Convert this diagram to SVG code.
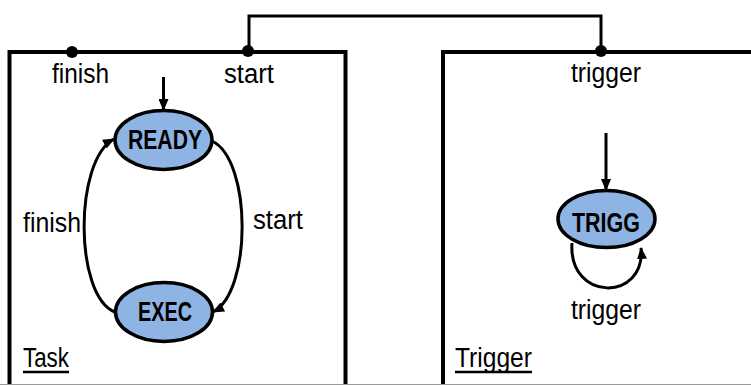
<svg xmlns="http://www.w3.org/2000/svg" width="751" height="385" viewBox="0 0 751 385">
<defs>
<marker id="arr" markerUnits="userSpaceOnUse" markerWidth="12" markerHeight="10" refX="11" refY="5" orient="auto">
<path d="M0,0 L12,5 L0,10 Z" fill="#000"/>
</marker>
<style>
.box{fill:#fff;stroke:#000;stroke-width:4}
.st{fill:#8EB4E3;stroke:#000;stroke-width:3.5}
.lbl{font-family:"Liberation Sans",Arial,sans-serif;font-size:27px;fill:#000}
.bold{font-family:"Liberation Sans",Arial,sans-serif;font-size:27px;font-weight:bold;fill:#000}
.edge{fill:none;stroke:#000;stroke-width:3}
.dot{fill:#000}
</style>
</defs>
<rect width="751" height="385" fill="#fff"/>
<g id="task">
<path class="box" d="M9.5,390 L9.5,52 L345.5,52 L345.5,390"/>
<text class="lbl" x="23" y="367" textLength="46" lengthAdjust="spacingAndGlyphs">Task</text>
<line x1="23" y1="372" x2="69" y2="372" stroke="#000" stroke-width="2.5"/>
<circle class="dot" cx="72" cy="52" r="6"/>
<circle class="dot" cx="248" cy="51" r="6"/>
<text class="lbl" x="52" y="83" textLength="57" lengthAdjust="spacingAndGlyphs">finish</text>
<text class="lbl" x="224" y="83" textLength="50" lengthAdjust="spacingAndGlyphs">start</text>
</g>
<g id="trigger">
<path class="box" d="M443,390 L443,52 L760,52"/>
<text class="lbl" x="455" y="367" textLength="77" lengthAdjust="spacingAndGlyphs">Trigger</text>
<line x1="455" y1="372" x2="532" y2="372" stroke="#000" stroke-width="2.5"/>
<circle class="dot" cx="601" cy="51" r="6"/>
<text class="lbl" x="571" y="82" textLength="70" lengthAdjust="spacingAndGlyphs">trigger</text>
</g>
<g id="ready">
<ellipse class="st" cx="163.5" cy="140" rx="48.5" ry="29.5"/>
<text class="bold" x="128" y="149" textLength="74" lengthAdjust="spacingAndGlyphs">READY</text>
</g>
<g id="exec">
<ellipse class="st" cx="164" cy="312" rx="48.5" ry="29.5"/>
<text class="bold" x="138" y="321" textLength="54" lengthAdjust="spacingAndGlyphs">EXEC</text>
</g>
<g id="trigg">
<ellipse class="st" cx="606.5" cy="219" rx="48.5" ry="28.5"/>
<text class="bold" x="572" y="232" textLength="68" lengthAdjust="spacingAndGlyphs">TRIGG</text>
</g>
<g id="connectors">
<polyline class="edge" points="249,51 249,16 601,16 601,51"/>
<line class="edge" x1="163.5" y1="77" x2="163.5" y2="110" marker-end="url(#arr)"/>
<line class="edge" x1="606" y1="133" x2="606" y2="190" marker-end="url(#arr)"/>
<path class="edge" d="M115,312 C74,296 74,160 114,139" marker-end="url(#arr)"/>
<path class="edge" d="M212,141 C252,160 252,292 213,312" marker-end="url(#arr)"/>
<path class="edge" d="M572,243 C568,302 646,302 641,248" marker-end="url(#arr)"/>
<text class="lbl" x="23" y="232" textLength="58" lengthAdjust="spacingAndGlyphs">finish</text>
<text class="lbl" x="253" y="229" textLength="50" lengthAdjust="spacingAndGlyphs">start</text>
<text class="lbl" x="571" y="319" textLength="70" lengthAdjust="spacingAndGlyphs">trigger</text>
</g>
<line x1="0" y1="384.5" x2="751" y2="384.5" stroke="#999" stroke-width="1"/>
</svg>
